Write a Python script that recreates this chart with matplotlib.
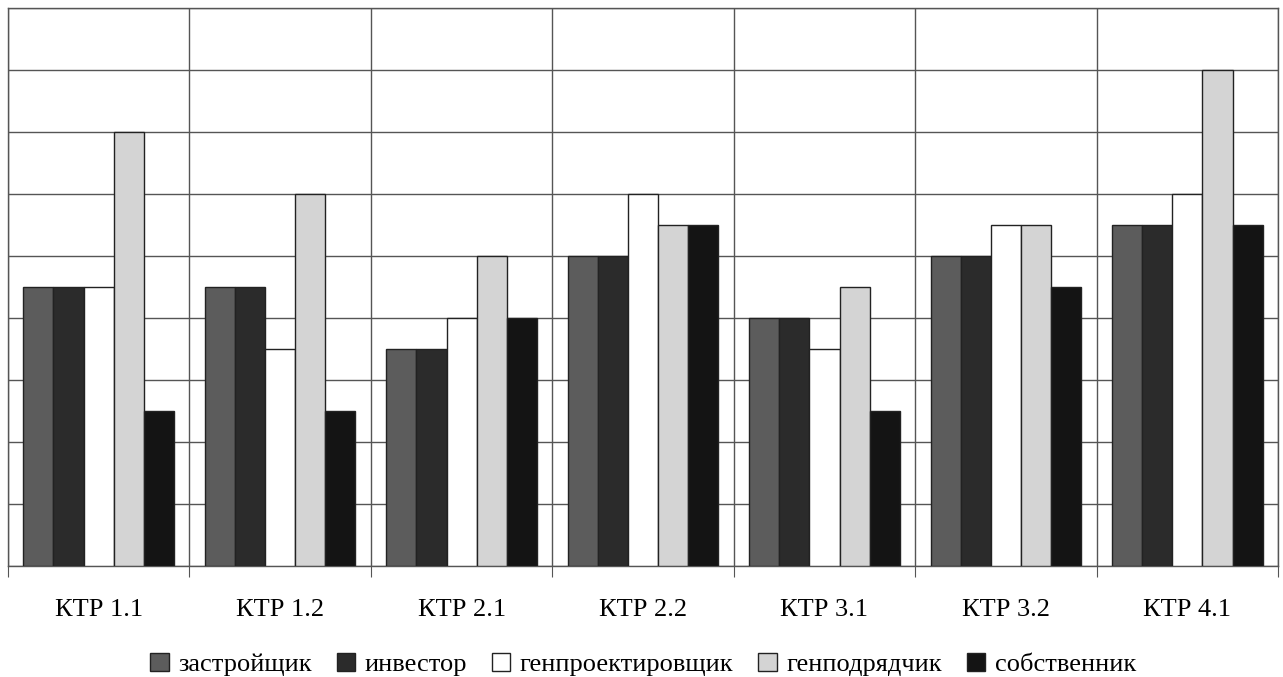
import matplotlib.pyplot as plt
import numpy as np

plt.rcParams['font.family'] = ['Liberation Serif', 'DejaVu Serif']

groups = ['КТР 1.1', 'КТР 1.2', 'КТР 2.1', 'КТР 2.2', 'КТР 3.1', 'КТР 3.2', 'КТР 4.1']
series = ['застройщик', 'инвестор', 'генпроектировщик', 'генподрядчик', 'собственник']

zastr = [4.5, 4.5, 3.5, 5.0, 4.0, 5.0, 5.5]
invest = [4.5, 4.5, 3.5, 5.0, 4.0, 5.0, 5.5]
genproekt = [4.5, 3.5, 4.0, 6.0, 3.5, 5.5, 6.0]
genpodr = [7.0, 6.0, 5.0, 5.5, 4.5, 5.5, 8.0]
sobstv = [2.5, 2.5, 4.0, 5.5, 2.5, 4.5, 5.5]

values = [zastr, invest, genproekt, genpodr, sobstv]
colors = ['#5c5c5c', '#2b2b2b', '#ffffff', '#d4d4d4', '#141414']

fig = plt.figure(figsize=(12.83, 6.77), dpi=100)
ax = fig.add_axes([0.0062, 0.164, 0.99, 0.824])

x = np.arange(len(groups))
w = 0.166
for i, (name, vals) in enumerate(zip(series, values)):
    ax.bar(x + (i - 2) * w, vals, w, color=colors[i], edgecolor='#222222',
           linewidth=1.0, label=name, zorder=3)

ax.set_xlim(-0.5, len(groups) - 0.5)
ax.set_ylim(0, 9)
ax.set_yticks(np.arange(0, 10, 1))
ax.set_yticklabels([])
ax.tick_params(axis='y', length=0)

ax.set_xticks(np.arange(-0.5, len(groups), 1))
ax.set_xticklabels([])
ax.set_xticks(x, minor=True)
ax.set_xticklabels(groups, minor=True, fontsize=19)
ax.tick_params(axis='x', which='major', length=8, color='#555555', direction='out')
ax.tick_params(axis='x', which='minor', length=0, pad=24)

ax.grid(True, which='major', color='#555555', linewidth=1.0, zorder=0)
for s in ax.spines.values():
    s.set_color('#555555')
    s.set_linewidth(1.0)

ax.legend(loc='upper center', bbox_to_anchor=(0.5, -0.113), ncol=5, frameon=False,
          fontsize=19, handlelength=0.7, handleheight=0.7, handletextpad=0.35,
          columnspacing=0.95)

plt.savefig('out.png', dpi=100)
